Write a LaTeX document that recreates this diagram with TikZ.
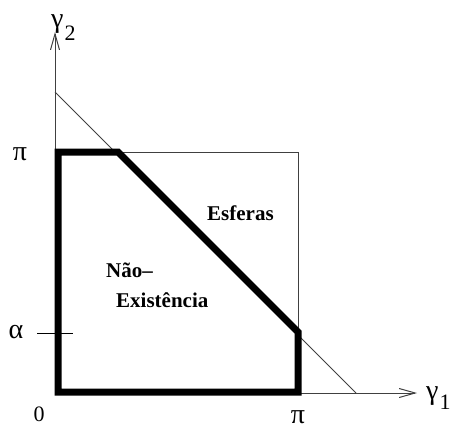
\documentclass[tikz,border=0pt]{standalone}
\usepackage{fontspec}
\setmainfont{Liberation Serif}
\usetikzlibrary{arrows.meta}
\newcommand{\gk}[1]{{\fontsize{28}{30}\selectfont #1}}
\begin{document}
\begin{tikzpicture}[x=1pt,y=-1pt,
  thin line/.style={line width=1pt,draw=black!75},
  thick line/.style={line width=7pt,line join=miter,draw=black},
  axis/.style={line width=1pt,draw=black!75,-{Straight Barb[length=16pt,width=9pt]}},
  lbl/.style={font=\fontsize{22}{26}\selectfont,inner sep=0pt},
  region/.style={font=\fontsize{21}{24}\selectfont\bfseries,inner sep=0pt,anchor=west}]
\useasboundingbox (0,0) rectangle (450,429);
% coordinates
\coordinate (O) at (55,393);
\coordinate (xend) at (417,393);
\coordinate (yend) at (55,32);
\coordinate (d1) at (55,92);
\coordinate (d2) at (356,393);
\coordinate (sq1) at (55,152);
\coordinate (sq2) at (298,152);
\coordinate (sq3) at (298,393);
\coordinate (t1) at (37,333);
\coordinate (t2) at (73,333);
% thin square and diagonal
\draw[thin line] (sq1) -- (sq2) -- (sq3);
\draw[thin line] (d1) -- (d2);
% axes
\draw[axis] (O) -- (xend);
\draw[axis] (O) -- (yend);
% tick alpha
\draw[thin line,draw=black] (t1) -- (t2);
% thick region
\draw[thick line] (58,152) -- (118,152) -- (298,332) -- (298,392) -- (58,392) -- cycle;
% labels
\node[lbl,anchor=west] (g2) at (51,28) {\gk{γ}\kern1pt\raisebox{-1.3ex}{2}};
\node[lbl,anchor=west] (g1) at (426,398) {\gk{γ}\kern1pt\raisebox{-1.0ex}{1}};
\node[lbl] (piy) at (20,154) {\gk{π}};
\node[lbl] (al) at (16,332) {\gk{α}};
\node[lbl] (zero) at (39,414) {0};
\node[lbl] (pix) at (298,417) {\gk{π}};
\node[region] (esf) at (207,213) {Esferas};
\node[region] (nao) at (106,270) {Não–};
\node[region] (exi) at (116,300) {Existência};
\end{tikzpicture}
\end{document}
